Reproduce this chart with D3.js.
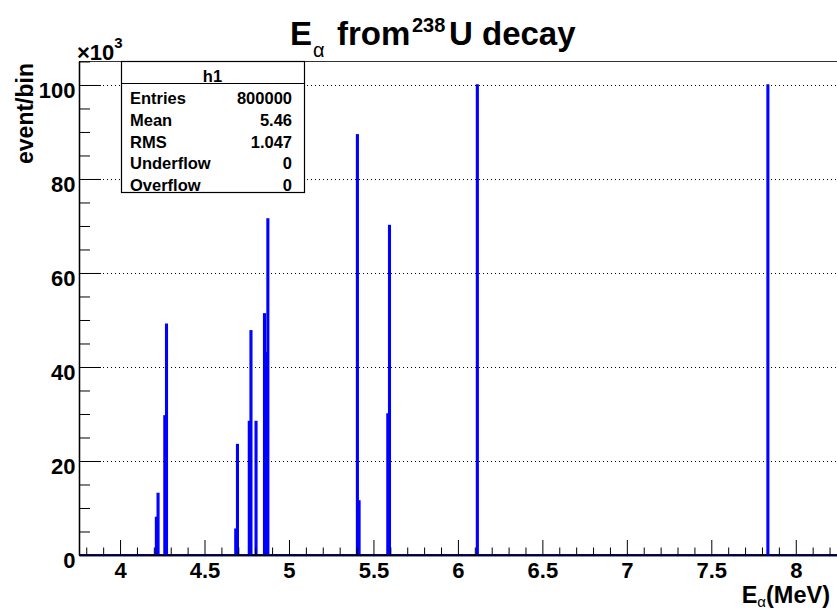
<!DOCTYPE html>
<html>
<head>
<meta charset="utf-8">
<script src="https://cdn.jsdelivr.net/npm/d3@7"></script>
<style>
  body { margin: 0; background: #fff; }
  svg text { font-family: "Liberation Sans", Arial, Helvetica, sans-serif; font-weight: bold; }
</style>
</head>
<body>
<svg id="hist" width="837" height="611"></svg>
<script>
// bin centres (MeV) and contents (x10^3 events), bin width 0.01 MeV
const binCenters = [4.215, 4.225, 4.265, 4.275, 4.685, 4.695, 4.765, 4.775, 4.805,
  4.855, 4.865, 4.875, 5.405, 5.415, 5.585, 5.595, 6.115, 7.835];
const binCounts = [8, 13.1, 29.6, 49.1, 5.5, 23.5, 28.4, 47.7, 28.4,
  51.3, 43, 71.5, 89.4, 11.5, 30, 70.1, 100, 100];
const binWidth = 0.01;

const xMajorTicks = [4, 4.5, 5, 5.5, 6, 6.5, 7, 7.5, 8];
const xTickLabels = ["4", "4.5", "5", "5.5", "6", "6.5", "7", "7.5", "8"];
const xMinorTicks = [3.8, 3.9, 4.1, 4.2, 4.3, 4.4, 4.6, 4.7, 4.8, 4.9, 5.1, 5.2, 5.3, 5.4,
  5.6, 5.7, 5.8, 5.9, 6.1, 6.2, 6.3, 6.4, 6.6, 6.7, 6.8, 6.9, 7.1, 7.2, 7.3, 7.4,
  7.6, 7.7, 7.8, 7.9, 8.1, 8.2];
const yMajorTicks = [0, 20, 40, 60, 80, 100];
const yTickLabels = ["0", "20", "40", "60", "80", "100"];
const yMinorTicks = [5, 10, 15, 25, 30, 35, 45, 50, 55, 65, 70, 75, 85, 90, 95, 105];

const stats = [["Entries", "800000"], ["Mean", "5.46"], ["RMS", "1.047"],
  ["Underflow", "0"], ["Overflow", "0"]];

const svg = d3.select("svg#hist");

// frame
const frame = { left: 79, right: 838, top: 61, bottom: 555 };

const xScale = d3.scaleLinear().domain([3.757, 8.25]).range([frame.left, frame.right]);
const yScale = d3.scaleLinear().domain([0, 105.1]).range([frame.bottom, frame.top]);

// top frame line
svg.append("line")
  .attr("x1", frame.left).attr("x2", frame.right)
  .attr("y1", frame.top + 0.5).attr("y2", frame.top + 0.5)
  .attr("stroke", "#333").attr("stroke-width", 1.2);

// histogram bars
svg.append("g")
  .selectAll("rect")
  .data(binCenters.map((c, i) => ({ c: c, n: binCounts[i] })))
  .enter()
  .append("rect")
  .attr("x", d => xScale(d.c - binWidth / 2))
  .attr("width", d => xScale(d.c + binWidth / 2) - xScale(d.c - binWidth / 2))
  .attr("y", d => yScale(d.n))
  .attr("height", d => yScale(0) - yScale(d.n))
  .attr("fill", "#0000ff")
  .attr("stroke", "#0000ff")
  .attr("stroke-width", 1.4);

// histogram at zero level
svg.append("line")
  .attr("x1", frame.left).attr("x2", frame.right)
  .attr("y1", yScale(0)).attr("y2", yScale(0))
  .attr("stroke", "#0000ff").attr("stroke-width", 2);

// horizontal grid
svg.append("g")
  .selectAll("line")
  .data(yMajorTicks.filter(v => v > 0))
  .enter()
  .append("line")
  .attr("x1", frame.left).attr("x2", frame.right)
  .attr("y1", d => Math.round(yScale(d)) + 0.5).attr("y2", d => Math.round(yScale(d)) + 0.5)
  .attr("stroke", "#000").attr("stroke-width", 1)
  .attr("stroke-dasharray", "1,3");

// x axis
const xAxis = svg.append("g")
  .attr("transform", `translate(0, ${frame.bottom})`)
  .call(d3.axisBottom(xScale).tickValues(xMajorTicks)
    .tickFormat((d, i) => xTickLabels[i]).tickSize(-15).tickSizeOuter(0).tickPadding(7));
svg.append("g")
  .attr("transform", `translate(0, ${frame.bottom})`)
  .call(d3.axisBottom(xScale).tickValues(xMinorTicks).tickFormat("").tickSize(-7.5).tickSizeOuter(0));

// y axis
const yAxis = svg.append("g")
  .attr("transform", `translate(${frame.left}, 0)`)
  .call(d3.axisLeft(yScale).tickValues(yMajorTicks)
    .tickFormat((d, i) => yTickLabels[i]).tickSize(-22).tickSizeOuter(0).tickPadding(3.5));
svg.append("g")
  .attr("transform", `translate(${frame.left}, 0)`)
  .call(d3.axisLeft(yScale).tickValues(yMinorTicks).tickFormat("").tickSize(-11).tickSizeOuter(0));

svg.selectAll(".domain").attr("stroke", "#000").attr("stroke-width", 1.3);
svg.selectAll(".tick line").attr("stroke", "#000");
xAxis.selectAll("text").attr("font-size", 22).attr("fill", "#000")
  .attr("font-family", "Liberation Sans, Arial, sans-serif");
yAxis.selectAll("text").attr("font-size", 22).attr("fill", "#000").attr("dy", "0.57em")
  .attr("font-family", "Liberation Sans, Arial, sans-serif");

// exponent label
const expo = svg.append("text").attr("x", 77).attr("y", 60).attr("font-size", 22);
expo.append("tspan").text("\u00d710");
expo.append("tspan").attr("font-size", 15).attr("dy", -12).text("3");

// axis titles
svg.append("text")
  .attr("transform", "translate(33, 63) rotate(-90)")
  .attr("text-anchor", "end")
  .attr("font-size", 23)
  .text("event/bin");

const xt = svg.append("text").attr("x", 830).attr("y", 603)
  .attr("text-anchor", "end").attr("font-size", 23.5);
xt.append("tspan").text("E");
xt.append("tspan").attr("font-size", 15).attr("font-weight", "normal").attr("dy", 4).text("\u03b1");
xt.append("tspan").attr("dy", -4).text("(MeV)");

// title
const title = svg.append("text").attr("y", 45).attr("font-size", 33);
title.append("tspan").attr("x", 290).text("E");
title.append("tspan").attr("x", 313).attr("font-size", 20).attr("font-weight", "normal").attr("dy", 12).text("\u03b1");
title.append("tspan").attr("x", 337).attr("dy", -12).text("from");
title.append("tspan").attr("x", 412).attr("font-size", 20).attr("dy", -13).text("238");
title.append("tspan").attr("x", 449).attr("dy", 13).text("U decay");

// stats box
const box = { x: 121, y: 61, w: 183, h: 131 };
svg.append("rect")
  .attr("x", box.x + 0.5).attr("y", box.y + 0.5)
  .attr("width", box.w).attr("height", box.h)
  .attr("fill", "#fff").attr("stroke", "#000").attr("stroke-width", 1.2);
svg.append("line")
  .attr("x1", box.x).attr("x2", box.x + box.w)
  .attr("y1", 83.5).attr("y2", 83.5)
  .attr("stroke", "#000").attr("stroke-width", 1.2);
svg.append("text").attr("x", 212.5).attr("y", 82).attr("text-anchor", "middle")
  .attr("font-size", 16.5).text("h1");

const rows = svg.append("g").selectAll("g").data(stats).enter().append("g");
rows.append("text").attr("x", 130).attr("y", (d, i) => 104 + i * 21.8)
  .attr("font-size", 16.5).text(d => d[0]);
rows.append("text").attr("x", 292).attr("y", (d, i) => 104 + i * 21.8)
  .attr("text-anchor", "end").attr("font-size", 16.5).text(d => d[1]);
</script>
</body>
</html>
